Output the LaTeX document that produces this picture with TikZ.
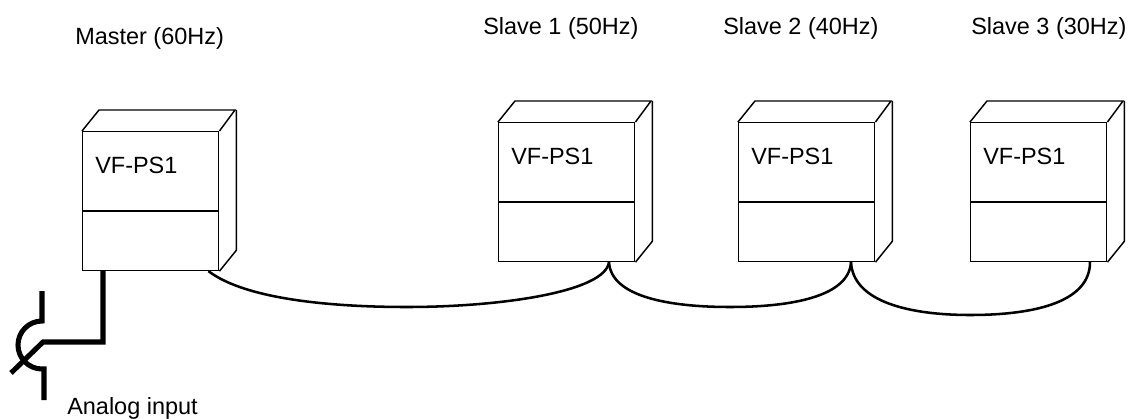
\documentclass[tikz,border=0pt]{standalone}
\usepackage{fontspec}
\setmainfont{Liberation Sans}
\usetikzlibrary{calc}
\tikzset{
  front/.style={draw, line width=1.1pt, minimum width=102pt, minimum height=104pt, inner sep=0pt, anchor=north west},
  lbl/.style={inner sep=0pt, anchor=base west, font=\fontsize{17.6}{20}\selectfont},
  edge3d/.style={line width=1.1pt, line join=miter},
  cable/.style={line width=1.9pt},
  analog/.style={line width=3.8pt, line join=miter}
}
\newcommand{\drivebox}[3]{%
  \node[front] (#1) at (#2,#3) {};
  \draw[edge3d] (#1.north west) -- ++(17,-21) -- ++(136,0) -- ($(#1.north east)$);
  \draw[edge3d] ($(#1.north east)+(17,-21)$) -- ($(#1.south east)+(17,-21)$) -- (#1.south east);
  \draw[edge3d] ($(#1.north west)+(0,80)$) -- ($(#1.north east)+(0,80)$);
  \node[lbl] (#1t) at ($(#1.north west)+(13,42)$) {VF-PS1};
}
\begin{document}
\begin{tikzpicture}[x=0.75pt,y=-0.75pt]
\useasboundingbox (0,0) rectangle (1131,418);
\drivebox{m}{82}{131}
\drivebox{sa}{498}{122}
\drivebox{sb}{738}{122}
\drivebox{sc}{970}{122}
\node[lbl] (ml) at (75,44) {Master (60Hz)};
\node[lbl] (sal) at (483,34) {Slave 1 (50Hz)};
\node[lbl] (sbl) at (723,34) {Slave 2 (40Hz)};
\node[lbl] (scl) at (971,34) {Slave 3 (30Hz)};
\node[lbl] (al) at (67,414) {Analog input};
% junction points
\coordinate (j0) at ($(m.south east)+(-11,0)$);
\coordinate (j1) at ($(sa.south west)+(111,0)$);
\coordinate (j2) at ($(sb.south west)+(113,0)$);
\coordinate (j3) at ($(sc.south west)+(120,0)$);
\draw[cable] (j0) .. controls (245,299) and (330,307) .. (407,307)
  .. controls (500,307) and (605,292) .. (j1);
\draw[cable] (j1) .. controls (611,297) and (670,307) .. (730,307)
  .. controls (790,307) and (849,297) .. (j2);
\draw[cable] (j2) .. controls (853,302) and (910,315) .. (970,315)
  .. controls (1040,315) and (1090,300) .. (j3);
% analog input symbol
\coordinate (aj) at ($(m.south west)+(21,0)$);
\draw[analog] (aj) -- (103,342) -- (43,342) -- (11,373);
\draw[analog] (42,291) -- (42,321) arc[start angle=270, end angle=90, radius=24] -- (44,369) -- (44,400);
\end{tikzpicture}
\end{document}
